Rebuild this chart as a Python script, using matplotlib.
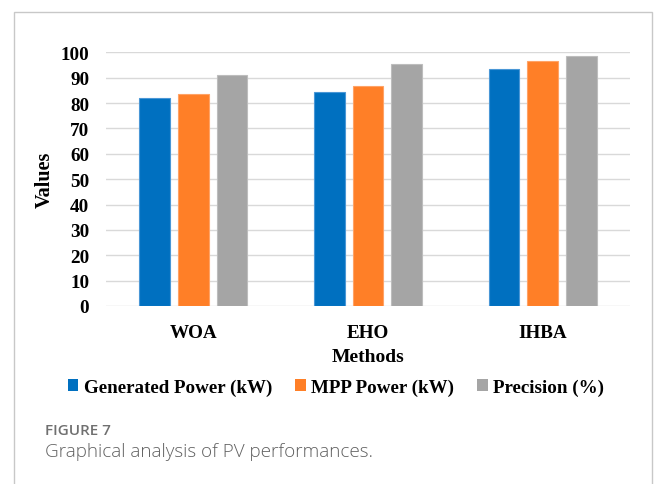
import matplotlib
matplotlib.use("Agg")
import matplotlib.pyplot as plt
import numpy as np
from matplotlib.patches import Patch, Rectangle

methods = ["WOA", "EHO", "IHBA"]
series_names = ["Generated Power (kW)", "MPP Power (kW)", "Precision (%)"]
generated_power = [81.8, 84.4, 93.4]
mpp_power = [83.4, 86.7, 96.7]
precision = [91.0, 95.4, 98.4]
yticks = [0, 10, 20, 30, 40, 50, 60, 70, 80, 90, 100]

colors = ["#0070C0", "#FF7F27", "#A5A5A5"]
edges = ["#4A97D6", "#FFA366", "#BDBDBD"]

W, H = 656, 485
fig = plt.figure(figsize=(W / 100, H / 100), dpi=100)
fig.patch.set_facecolor("white")

# outer frame (open at bottom)
fig.add_artist(Rectangle((13.5 / W, -0.05), (651.5 - 13.5) / W, 1.05 - 12.5 / H,
                         transform=fig.transFigure, fill=False,
                         edgecolor="#C8C8C8", linewidth=1.0))

ax_l, ax_r, ax_b, ax_t = 106, 630, 307, 53.3
ax = fig.add_axes([ax_l / W, 1 - ax_b / H, (ax_r - ax_l) / W, (ax_b - ax_t) / H])

serif = "Liberation Serif"
x = np.arange(len(methods))
bw = 0.1746
pitch = 0.2215
for i, (vals, name) in enumerate(zip([generated_power, mpp_power, precision], series_names)):
    ax.bar(x + (i - 1) * pitch, vals, width=bw, color=colors[i], edgecolor=edges[i],
           linewidth=0.8, label=name, zorder=3)

ax.set_xlim(-0.5, 2.5)
ax.set_ylim(0, 100)
ax.set_yticks(yticks)
ax.set_yticklabels([str(t) for t in yticks], fontfamily=serif, fontweight="bold", fontsize=13.8)
ax.set_xticks(x)
ax.set_xticklabels(methods, fontfamily=serif, fontweight="bold", fontsize=13.8)
ax.tick_params(axis="y", length=0, pad=12)
ax.tick_params(axis="x", length=0, pad=13)
ax.grid(axis="y", color="#D9D9D9", linewidth=1.0, zorder=0)
for s in ax.spines.values():
    s.set_visible(False)

ax.set_xlabel("Methods", fontfamily=serif, fontweight="bold", fontsize=14, va="center")
ax.xaxis.set_label_coords(0.5, (ax_b - 357.5) / (ax_b - ax_t))
ax.set_ylabel("Values", fontfamily=serif, fontweight="bold", fontsize=14.5, va="center")
ax.yaxis.set_label_coords((45 - ax_l) / (ax_r - ax_l), 0.5)

handles = [Patch(facecolor=c, edgecolor="none") for c in colors]
fig.legend(handles, series_names, loc="center", bbox_to_anchor=(336 / W, 1 - 388 / H),
           ncol=3, frameon=False, handlelength=0.55, handleheight=0.55,
           handletextpad=0.3, columnspacing=1.2,
           prop={"family": serif, "weight": "bold", "size": 13.7})

fig.text(45 / W, 1 - 431.5 / H, "FIGURE 7", fontfamily="Open Sans", fontweight="semibold",
         fontsize=11, color="#707070", ha="left", va="center")
fig.text(45 / W, 1 - 452 / H, "Graphical analysis of PV performances.", fontfamily="Open Sans",
         fontweight="light", fontsize=13.6, color="#606060", ha="left", va="center")

fig.savefig("out.png", dpi=100, facecolor="white")
